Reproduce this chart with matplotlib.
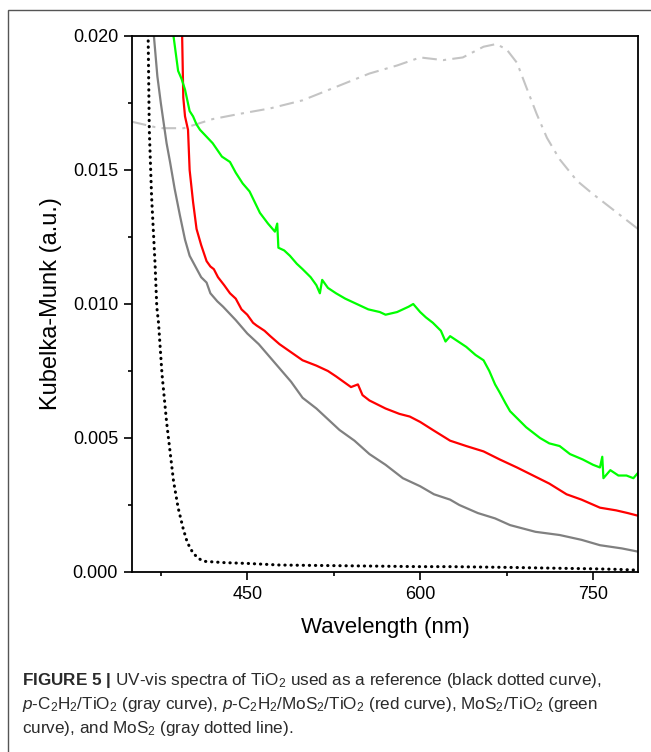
import matplotlib
matplotlib.use("Agg")
import matplotlib.pyplot as plt
from matplotlib.patches import Rectangle
from matplotlib.ticker import MultipleLocator, FormatStrFormatter

plt.rcParams['font.family'] = ['Liberation Sans', 'DejaVu Sans']
plt.rcParams['mathtext.fontset'] = 'custom'
plt.rcParams['mathtext.rm'] = 'Liberation Sans'
plt.rcParams['mathtext.it'] = 'Liberation Sans:italic'
plt.rcParams['mathtext.bf'] = 'Liberation Sans:bold'

# TiO2 reference (black dotted)
tio2_wl = [363, 364, 365, 367, 370, 371.5, 373, 376, 380, 383, 386, 390, 394.5, 398, 403, 408, 412,
           430, 450, 478, 520, 560, 600, 626, 680, 720, 750, 770, 789]
tio2_km = [0.0205, 0.0200, 0.0165, 0.0140, 0.0115, 0.0099, 0.0093, 0.0074, 0.0056, 0.0045, 0.0034,
           0.0024, 0.0016, 0.0011, 0.0007, 0.0005, 0.0004, 0.00035, 0.00032, 0.00026, 0.00024,
           0.00022, 0.0002, 0.0002, 0.00017, 0.00014, 0.00012, 0.0001, 0.00007]

# p-C2H2/TiO2 (gray)
pc_wl = [368, 369, 372, 375, 377, 380, 383, 387, 391.6, 396, 400, 405, 410, 414.7, 418, 424, 429,
         440, 450, 460, 470, 478, 488, 498, 510, 520, 530, 543, 556, 570, 585, 600, 612, 626, 634,
         650, 665, 678, 700, 721, 740, 756, 775, 789]
pc_km = [0.0205, 0.0200, 0.0185, 0.0175, 0.0169, 0.0160, 0.0153, 0.0143, 0.0133, 0.0124, 0.0118,
         0.0114, 0.0110, 0.0108, 0.0104, 0.0101, 0.0099, 0.0094, 0.0089, 0.0085, 0.0080, 0.0076,
         0.0071, 0.0065, 0.0061, 0.0057, 0.0053, 0.0049, 0.0044, 0.0040, 0.0035, 0.0032, 0.0029,
         0.0027, 0.0025, 0.0022, 0.0020, 0.00175, 0.0015, 0.00138, 0.0012, 0.0010, 0.00088, 0.00076]

# p-C2H2/MoS2/TiO2 (red)
pcm_wl = [393, 393.5, 394.5, 396, 398.6, 400, 403, 406, 410, 414.7, 418, 421, 424.6, 430, 435, 440,
          445, 450, 455, 458, 465, 470, 478, 488, 498, 510, 520, 527, 540, 546, 550, 556, 570, 582,
          591, 600, 611, 626, 640, 655, 669, 684, 698, 712, 727, 740, 756, 770, 780, 789]
pcm_km = [0.0205, 0.0200, 0.0177, 0.0170, 0.0165, 0.0150, 0.0138, 0.0128, 0.0122, 0.0116, 0.0114,
          0.0113, 0.0110, 0.0107, 0.0104, 0.0102, 0.0098, 0.0096, 0.0093, 0.0092, 0.0090, 0.0088,
          0.0085, 0.0082, 0.0079, 0.0077, 0.0075, 0.0073, 0.0069, 0.0070, 0.0066, 0.0064, 0.0061,
          0.0059, 0.0058, 0.0056, 0.0053, 0.0049, 0.0047, 0.0045, 0.0042, 0.0039, 0.0036, 0.0033,
          0.0029, 0.0027, 0.0024, 0.0023, 0.0022, 0.0021]

# MoS2/TiO2 (green)
mt_wl = [385, 386, 390, 393, 396, 400, 403, 406, 409, 420, 428, 435, 440, 446, 452, 461, 468, 474,
         476, 477, 482, 487, 493, 498, 505, 510, 513, 515, 520, 527, 535, 545, 555, 565, 570, 580,
         590, 594, 600, 605, 611, 618, 622, 626, 633, 640, 648, 655, 660, 665, 669, 674, 678, 685,
         692, 698, 704, 712, 721, 730, 741, 750, 756, 758, 759, 765, 772, 779, 785, 789]
mt_km = [0.0205, 0.0200, 0.0187, 0.0184, 0.0180, 0.0172, 0.0170, 0.0167, 0.0165, 0.0160, 0.0155,
         0.0153, 0.0149, 0.0145, 0.0142, 0.0134, 0.0130, 0.0127, 0.0130, 0.0121, 0.0120, 0.0118,
         0.0115, 0.0113, 0.0110, 0.0107, 0.0104, 0.0109, 0.0106, 0.0104, 0.0102, 0.0100, 0.0098,
         0.0097, 0.0096, 0.0097, 0.0099, 0.0100, 0.0097, 0.0095, 0.0093, 0.0090, 0.0086, 0.0088,
         0.0086, 0.0084, 0.0081, 0.0079, 0.0075, 0.0070, 0.0067, 0.0063, 0.0060, 0.0057, 0.0054,
         0.0052, 0.0050, 0.0048, 0.0047, 0.0044, 0.0042, 0.0040, 0.0039, 0.0043, 0.0035, 0.0038,
         0.0036, 0.0036, 0.0035, 0.0037]

# MoS2 (light gray dash-dot)
mos2_wl = [350, 360, 370, 377, 395, 420, 444, 470, 498, 527, 556, 580, 600, 620, 637, 655, 666, 675,
           684, 692, 701, 710, 721, 736, 750, 765, 789]
mos2_km = [0.0168, 0.0167, 0.0166, 0.01656, 0.01656, 0.0169, 0.0171, 0.0173, 0.0176, 0.0181, 0.0186,
           0.0189, 0.0192, 0.0191, 0.0192, 0.0196, 0.0197, 0.0195, 0.0190, 0.0181, 0.0171, 0.0162,
           0.0154, 0.0146, 0.0141, 0.0136, 0.0128]

fig = plt.figure(figsize=(6.51, 7.52), dpi=100)
ax = fig.add_axes([132 / 651, 1 - 572 / 752, (638 - 132) / 651, (572 - 36) / 752])

ax.plot(mos2_wl, mos2_km, color='#c4c4c4', lw=1.5, ls=(0, (7, 3, 1.5, 3)))
ax.plot(pc_wl, pc_km, color='#808080', lw=1.6)
ax.plot(pcm_wl, pcm_km, color='#ff0000', lw=1.6)
ax.plot(mt_wl, mt_km, color='#00ff00', lw=1.6)
ax.plot(tio2_wl, tio2_km, color='black', lw=2.2, ls=(0, (0.1, 1.9)), dash_capstyle='round')

ax.set_xlim(350, 789)
ax.set_ylim(0, 0.020)
ax.xaxis.set_major_locator(MultipleLocator(150))
ax.xaxis.set_minor_locator(MultipleLocator(75))
ax.yaxis.set_major_locator(MultipleLocator(0.005))
ax.yaxis.set_minor_locator(MultipleLocator(0.0025))
ax.yaxis.set_major_formatter(FormatStrFormatter('%.3f'))
ax.tick_params(which='major', length=6, width=1.2, labelsize=13, direction='out', pad=4)
ax.tick_params(which='minor', length=3, width=1.2, direction='out')
for s in ax.spines.values():
    s.set_linewidth(1.3)

ax.set_xlabel('Wavelength (nm)', fontsize=16, labelpad=10)
ax.set_ylabel('Kubelka-Munk (a.u.)', fontsize=17, labelpad=8)

# outer frame of the figure panel
fig.patches.append(Rectangle((8 / 651, -0.1), 1.2, 1 - 10 / 752 + 0.1, transform=fig.transFigure,
                             fill=False, edgecolor='#555555', lw=1.0))

cap = '#2a2a2a'
fs = 12.3
fig.text(22 / 651, 1 - 680 / 752,
         r'$\bf{FIGURE\ 5\ |}$ UV-vis spectra of TiO$_2$ used as a reference (black dotted curve),',
         fontsize=fs, color=cap, va='center')
fig.text(22 / 651, 1 - 705 / 752,
         r'$\it{p}$-C$_2$H$_2$/TiO$_2$ (gray curve), $\it{p}$-C$_2$H$_2$/MoS$_2$/TiO$_2$ (red curve), MoS$_2$/TiO$_2$ (green',
         fontsize=fs, color=cap, va='center')
fig.text(22 / 651, 1 - 729 / 752, r'curve), and MoS$_2$ (gray dotted line).',
         fontsize=fs, color=cap, va='center')

fig.savefig('out.png', dpi=100)
